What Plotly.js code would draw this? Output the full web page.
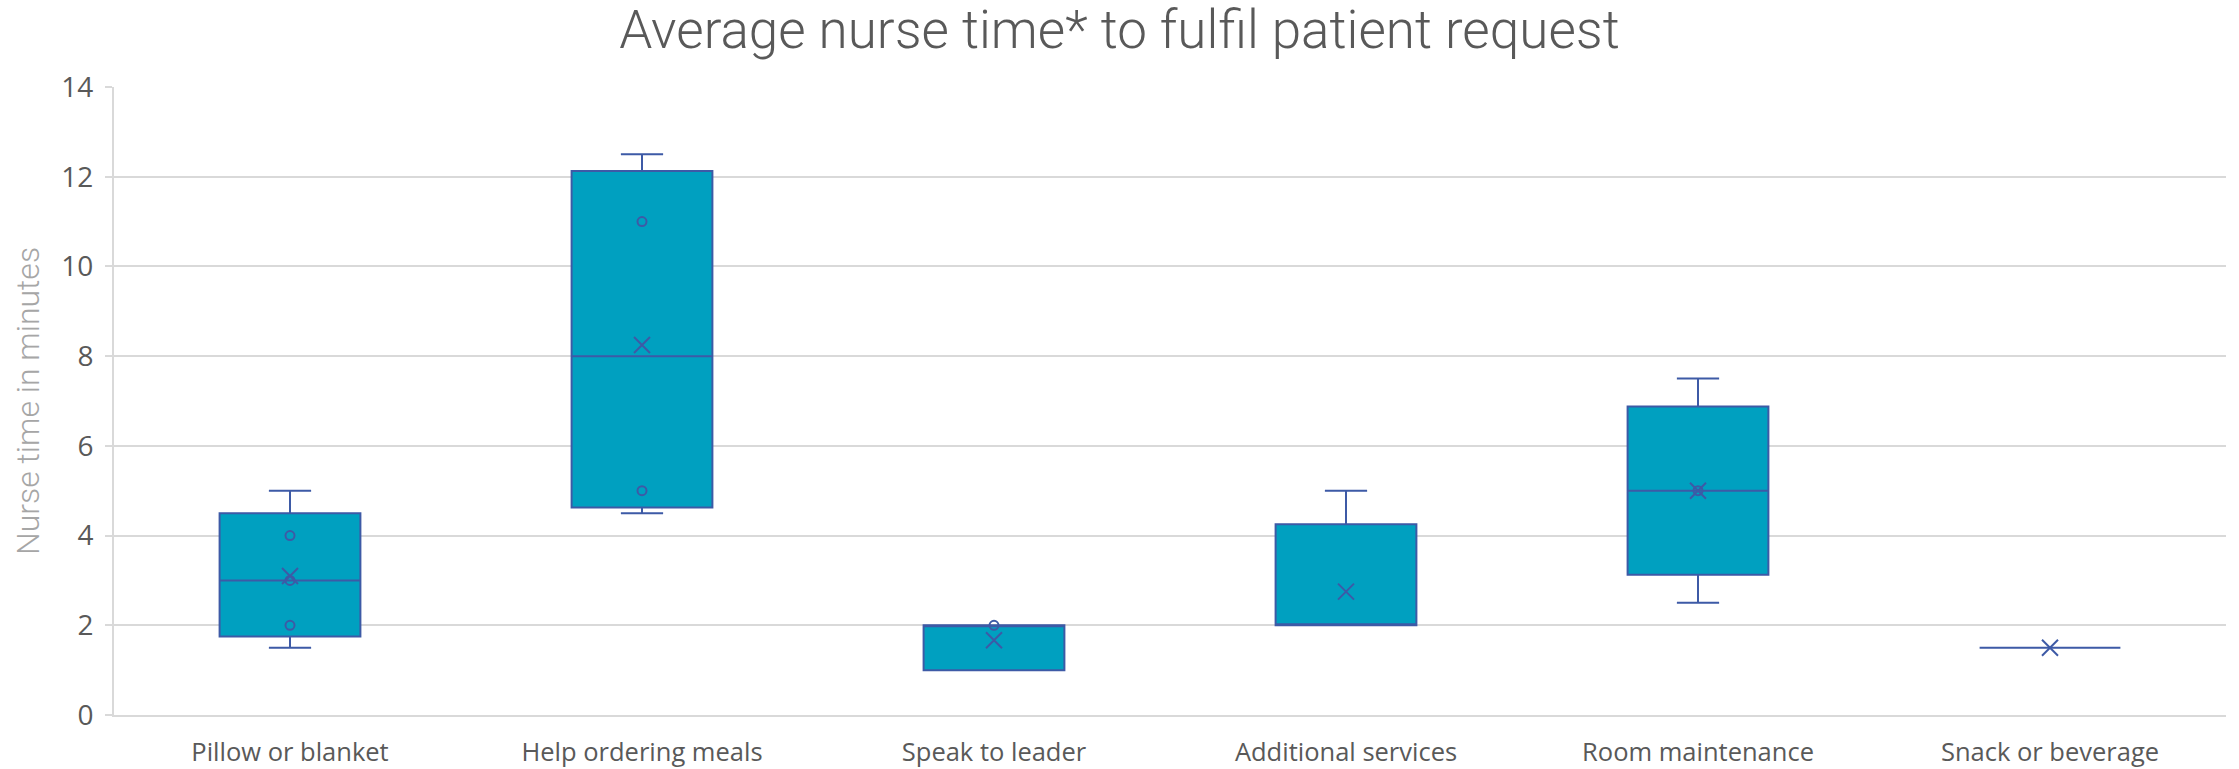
<!DOCTYPE html>
<html>
<head>
<meta charset="utf-8">
<script src="https://cdn.plot.ly/plotly-3.0.1.min.js"></script>
<style>html,body{margin:0;padding:0;background:#fff;}#chart{width:2239px;height:769px;}</style>
</head>
<body>
<div id="chart"></div>
<script>
// Categories and box statistics (minutes)
const categories = ["Pillow or blanket", "Help ordering meals", "Speak to leader", "Additional services", "Room maintenance", "Snack or beverage"];
const lowerWhisker = [1.5, 4.5, 1.0, 2.0, 2.5, 1.5];
const q1Values     = [1.75, 4.625, 1.0, 2.0, 3.125, 1.5];
const medianValues = [3.0, 8.0, 2.0, 2.0, 5.0, 1.5];
const q3Values     = [4.5, 12.125, 2.0, 4.25, 6.875, 1.5];
const upperWhisker = [5.0, 12.5, 2.0, 5.0, 7.5, 1.5];
const meanValues   = [3.1, 8.25, 1.667, 2.75, 5.0, 1.5];
const innerPoints  = [[2, 3, 4], [5, 11], [2], [], [5], []];
const yTicks = [0, 2, 4, 6, 8, 10, 12, 14];

const fillColor = "#00A0C0";
const lineColor = "#3D5AA6";
const gridColor = "#D9D9D9";
const lightFont = "'Roboto Light', 'Lato Light', Roboto, Lato, sans-serif";

const ptX = [], ptY = [];
innerPoints.forEach((pts, i) => pts.forEach(v => { ptX.push(categories[i]); ptY.push(v); }));

const traces = [
  {
    type: "box",
    x: categories,
    q1: q1Values,
    median: medianValues,
    q3: q3Values,
    lowerfence: lowerWhisker,
    upperfence: upperWhisker,
    boxpoints: false,
    width: 0.4,
    whiskerwidth: 0.3,
    fillcolor: fillColor,
    line: { color: lineColor, width: 2 },
    hoverinfo: "skip",
    showlegend: false
  },
  {
    type: "scatter",
    mode: "markers",
    x: ptX,
    y: ptY,
    marker: { symbol: "circle-open", size: 9, color: lineColor, line: { width: 2, color: lineColor } },
    hoverinfo: "skip",
    showlegend: false
  },
  {
    type: "scatter",
    mode: "markers",
    x: categories,
    y: meanValues,
    marker: { symbol: "x-thin-open", size: 16, color: lineColor, line: { width: 2, color: lineColor } },
    hoverinfo: "skip",
    showlegend: false
  }
];

const layout = {
  width: 2239,
  height: 769,
  margin: { l: 114, r: 13, t: 87, b: 54 },
  paper_bgcolor: "#ffffff",
  plot_bgcolor: "#ffffff",
  font: { family: "Open Sans, Noto Sans, sans-serif", color: "#595959" },
  title: {
    text: "Average nurse time* to fulfil patient request",
    font: { family: lightFont, size: 53, weight: 300, color: "#595959" },
    x: 0.5, xanchor: "center",
    y: 0.986, yref: "container", yanchor: "top",
    pad: { t: 0 },
    automargin: false
  },
  xaxis: {
    type: "category",
    range: [-0.5, 5.5],
    showgrid: false,
    showline: true,
    linecolor: gridColor,
    linewidth: 2,
    ticks: "",
    tickfont: { size: 25.5, color: "#595959" },
    ticklabelstandoff: 13,
    zeroline: false,
    fixedrange: true
  },
  yaxis: {
    range: [0, 14],
    tickvals: yTicks,
    ticktext: yTicks.map(String),
    showgrid: true,
    gridcolor: gridColor,
    gridwidth: 2,
    showline: true,
    linecolor: gridColor,
    linewidth: 2,
    ticks: "outside",
    ticklen: 7,
    tickwidth: 2,
    tickcolor: gridColor,
    tickfont: { size: 28, color: "#595959" },
    ticklabelstandoff: 6,
    zeroline: false,
    title: {
      text: "Nurse time in minutes",
      font: { family: lightFont, size: 32, weight: 300, color: "#A6A6A6" },
      standoff: 12
    },
    fixedrange: true
  }
};

Plotly.newPlot("chart", traces, layout, { staticPlot: true, displayModeBar: false });
</script>
</body>
</html>
